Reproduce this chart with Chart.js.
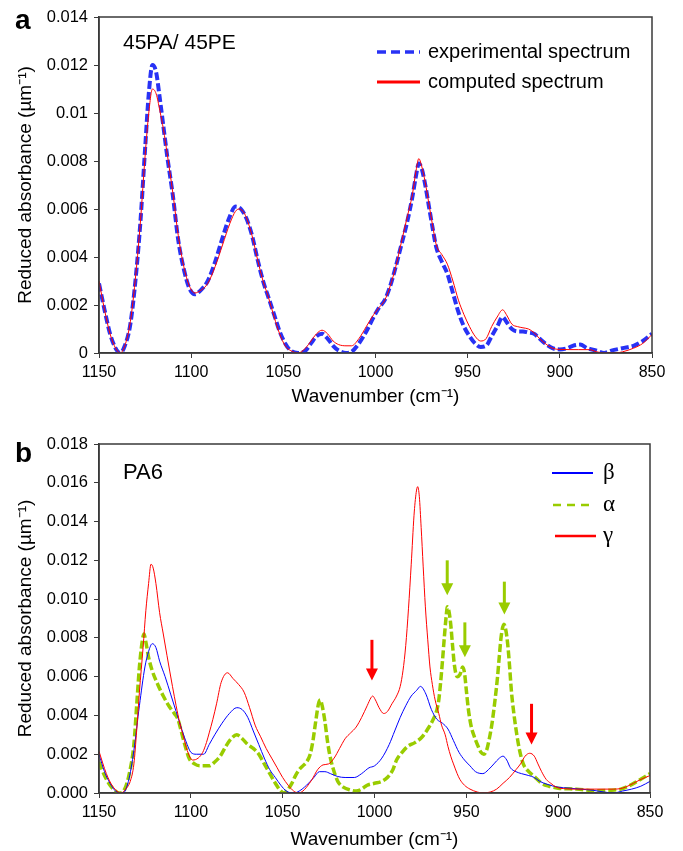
<!DOCTYPE html>
<html>
<head>
<meta charset="utf-8">
<script src="https://cdn.jsdelivr.net/npm/chart.js@4.4.1/dist/chart.umd.min.js"></script>
<style>
  body { margin: 0; background: #fff; }
  canvas { display: block; position: absolute; left: 0; }
  #chartA { top: 0; }
  #chartB { top: 420px; }
</style>
</head>
<body>
<canvas id="chartA" width="683" height="420" style="width:683px;height:420px"></canvas>
<canvas id="chartB" width="683" height="431" style="width:683px;height:431px"></canvas>
<script>
// ---- panel a : 45PA / 45PE ----
const expWn = [1150,1147,1144,1141,1138.5,1136,1133,1130,1127.5,1125,1123,1121,1119,1117,1115,1113,1110,1107,1104,1101,1098,1095,1091,1087,1083,1079,1076,1073,1070,1067,1064,1061,1058,1055,1052,1049,1046,1042,1038,1035,1032,1029,1026,1023,1020,1016,1013,1009,1005,1001,998,995,992,989,986,983,980,978,976.5,975,973,971,969,967,964,961,958,955,952,949,946,943,940,937,934,931,929,926,923,920,917,914,911,908,904,900,896,893,889,885,880,876,872,866,860,855,850];
const expVal = [0.0029,0.0018,0.0008,0.0002,0,0.0003,0.0012,0.0032,0.0055,0.0085,0.0108,0.0120,0.0117,0.0106,0.0094,0.0082,0.0066,0.0047,0.0035,0.0027,0.00245,0.0026,0.0030,0.0038,0.0048,0.0057,0.0061,0.0060,0.0056,0.0049,0.0039,0.0030,0.0023,0.0016,0.0009,0.0004,0.0001,0,0.0001,0.0004,0.0007,0.0008,0.0006,0.0003,0.0001,0,0.00005,0.0004,0.0009,0.0015,0.0019,0.0022,0.0028,0.0036,0.0045,0.0054,0.0065,0.0074,0.0079,0.0077,0.0070,0.0061,0.0052,0.0044,0.0038,0.0033,0.0025,0.0017,0.0011,0.0007,0.0004,0.00025,0.0003,0.0007,0.0011,0.0015,0.0013,0.0010,0.0009,0.0009,0.00085,0.0008,0.0006,0.0004,0.0002,0.00015,0.0002,0.0003,0.00035,0.0002,0.0001,0,0.0001,0.0002,0.0003,0.0005,0.0008];

const compWn = [1150,1147,1144,1141,1138.5,1136,1133,1130,1127.5,1125,1123,1121,1119,1117,1115,1113,1110,1107,1104,1101,1098,1095,1091,1087,1083,1079,1076,1074,1071,1067,1064,1061,1058,1055,1052,1049,1046,1042,1038,1035,1032,1029,1026,1023,1020,1016,1013,1009,1005,1001,998,995,992,989,986,983,980,978,976.5,975,973,971,969,967,964,961,958,955,952,949,946,943,940,937,934,931,929,926,923,920,917,914,911,908,904,900,890,884,880,876,870,866,860,855,850];
const compVal = [0.0030,0.0018,0.0008,0.0002,0,0.0003,0.0013,0.0033,0.0055,0.0082,0.0100,0.0110,0.0108,0.0101,0.0093,0.0083,0.0067,0.0049,0.0036,0.0028,0.0025,0.0026,0.0029,0.0036,0.0045,0.0054,0.0059,0.0060,0.0058,0.0049,0.0039,0.0030,0.0023,0.0015,0.0008,0.0003,0.0001,0,0.0002,0.0005,0.0008,0.00095,0.0008,0.0005,0.00035,0.0003,0.0003,0.0006,0.0011,0.0016,0.0019,0.0022,0.0028,0.0036,0.0046,0.0056,0.0066,0.0076,0.0081,0.0078,0.0071,0.0062,0.0053,0.0045,0.0041,0.0037,0.0030,0.0022,0.0016,0.0011,0.0007,0.0005,0.0006,0.0011,0.0015,0.0018,0.0016,0.0012,0.0011,0.00105,0.0010,0.00085,0.0006,0.0004,0.0002,0.00015,0.00014,0.00014,0.00005,0,0,0.00005,0.0002,0.0004,0.00077];

// ---- panel b : PA6 ----
const betaWn = [1150,1147,1144,1141,1137,1134,1131,1128,1125,1123,1121,1119,1117,1114,1111,1108,1105,1102,1100,1097,1093,1090,1087,1083,1079,1075,1072,1069,1066,1063,1060,1057,1054,1051,1048,1044,1041,1037,1033,1030,1027,1024,1020,1016,1011,1007,1003,1000,996,992,989,986,983,980,977,975,972,969,966,963,960,957,954,951,948,945,941,938,935,932,930,928,926,923,920,916,913,910,906,900,894,888,881,875,870,865,860,855,850];
const betaVal = [0.0020,0.0011,0.0005,0.0001,0,0.0006,0.0022,0.0045,0.0065,0.0073,0.0077,0.0075,0.0068,0.0060,0.0051,0.0042,0.0033,0.0025,0.0021,0.0020,0.0020,0.0025,0.0030,0.0036,0.0041,0.0044,0.0043,0.0039,0.0032,0.0025,0.0018,0.0012,0.0008,0.0004,0.0001,0,0.0001,0.0004,0.0008,0.0011,0.0011,0.0010,0.00085,0.0008,0.0008,0.0010,0.0013,0.0014,0.0018,0.0025,0.0032,0.0039,0.0045,0.0050,0.0053,0.0055,0.0051,0.0043,0.0038,0.0036,0.0033,0.0027,0.0021,0.0017,0.0014,0.0011,0.0010,0.0012,0.0015,0.0018,0.0019,0.0017,0.0013,0.0011,0.0010,0.0009,0.0008,0.0006,0.00045,0.0003,0.00025,0.0002,0.00014,0.00005,0,0.0001,0.0002,0.00035,0.0006];

const alphaWn = [1150,1147,1144,1141,1139,1136,1133.5,1131,1129.5,1128,1126.5,1125.5,1124.5,1123,1121,1118,1115,1112,1109,1107,1105,1103,1101,1098,1095,1090,1087,1084,1081,1078,1075,1072,1069,1066,1063,1060,1057,1054,1051,1049.5,1047,1045,1043,1041,1039,1037,1035,1033.5,1032,1030.5,1029.5,1028.5,1027,1025.5,1024,1022,1020,1017,1013,1010,1007,1004,1000,996,993,990,988,985,982,978,974,971,968,966,965,964,963,962,961,960.3,959.5,958.5,957.5,956.5,955,953.5,952,951,950,949,947.5,946,944,942,940.5,939,937.5,936,934.5,933,932,931,929.5,928.5,927.5,926.5,925.5,924,922.5,921,919,916,913,909,905,900,890,880,872,866,862,857,850];
const alphaVal = [0.0016,0.0009,0.0004,0.0001,0,0.0002,0.0010,0.0025,0.0045,0.0065,0.0078,0.0082,0.0078,0.0070,0.0063,0.0056,0.0050,0.0045,0.0041,0.0038,0.0031,0.0024,0.0018,0.0015,0.0014,0.0014,0.0016,0.0019,0.0024,0.0028,0.0030,0.0028,0.0025,0.0023,0.0020,0.0015,0.0010,0.0005,0.0001,0,0.0002,0.0005,0.0009,0.0012,0.0014,0.0016,0.0020,0.0027,0.0037,0.0046,0.0048,0.0045,0.0037,0.0026,0.0018,0.0011,0.0006,0.0003,0.00015,0.0001,0.0002,0.0004,0.0005,0.0006,0.0008,0.0012,0.0017,0.0021,0.0024,0.0026,0.0029,0.0033,0.0038,0.0043,0.0048,0.0057,0.0068,0.0080,0.0091,0.0096,0.0094,0.0087,0.0076,0.0066,0.0060,0.0061,0.0065,0.0062,0.0053,0.0044,0.0035,0.0030,0.0025,0.0021,0.0020,0.0022,0.0028,0.0036,0.0047,0.0060,0.0071,0.0081,0.0087,0.0084,0.0077,0.0066,0.0053,0.0040,0.0030,0.0022,0.0015,0.0011,0.00085,0.0005,0.00035,0.00025,0.0002,0.00012,0.00014,0.0002,0.00034,0.0006,0.0010];

const gammaWn = [1150,1146,1142.5,1138,1135.5,1133,1131,1129.5,1128,1126,1124.5,1123,1121.7,1120.5,1119,1117,1115,1113,1110,1108,1106,1104,1102,1099,1096,1093.5,1091.5,1090,1088,1086,1083.5,1080,1077,1074,1071,1068,1065,1062,1059,1056,1053,1050,1047,1044,1041.5,1039,1037,1034,1031,1028,1025,1022,1019,1016,1013,1010,1007,1004,1002,1001,999.5,997.5,995,993,990.5,988,986,984.5,983,981.5,980,978.5,977.3,976.5,975.6,974.6,973.5,972.3,971,969.8,968.5,967,965,963.5,961.5,960,958.5,957,955,953.5,951,948,944,941,937,933.5,930,926.5,923,920.5,918,915.5,913,911,909,906.5,904,901,896,890,880,870,865,859,855,850];
const gammaVal = [0.00215,0.0010,0.00034,0,0.0002,0.0006,0.0015,0.0032,0.0052,0.0075,0.0094,0.0108,0.0118,0.0116,0.0108,0.0093,0.0082,0.0071,0.0055,0.0045,0.0036,0.0029,0.0022,0.0017,0.0018,0.0021,0.0026,0.0031,0.0038,0.0046,0.0057,0.0062,0.0059,0.0056,0.0052,0.0044,0.0035,0.0029,0.0023,0.0018,0.0013,0.0008,0.0004,0.0001,0,0.0001,0.0003,0.0007,0.0012,0.00145,0.0015,0.0018,0.0023,0.0028,0.0031,0.0034,0.0039,0.0045,0.0049,0.0050,0.0048,0.0044,0.0041,0.0042,0.0046,0.0050,0.0055,0.0063,0.0076,0.0095,0.0118,0.0143,0.0155,0.0158,0.0153,0.0137,0.0117,0.0096,0.0079,0.0065,0.0056,0.0048,0.0041,0.0035,0.0030,0.0024,0.0019,0.0015,0.0010,0.0007,0.0004,0.0002,0.00005,0,0.00005,0.0002,0.0005,0.0008,0.0012,0.0015,0.0019,0.00205,0.0019,0.0015,0.0011,0.0007,0.0005,0.0003,0.00022,0.0002,0.0002,0.0002,0.00025,0.0005,0.0007,0.0009];

// peak arrows in panel b (wavenumber, tail value, tip value)
const arrowWn   = [1001.4, 914.5, 960.4, 950.8, 929.3];
const arrowTail = [0.0079, 0.0046, 0.0120, 0.0088, 0.0109];
const arrowTip  = [0.0058, 0.0025, 0.0102, 0.0070, 0.0092];
const arrowSet  = ['gamma', 'gamma', 'alpha', 'alpha', 'alpha'];

// axis ticks
const xTicks = [1150, 1100, 1050, 1000, 950, 900, 850];
const xLabels = ['1150', '1100', '1050', '1000', '950', '900', '850'];
const yTicksA = [0, 0.002, 0.004, 0.006, 0.008, 0.01, 0.012, 0.014];
const yLabelsA = ['0', '0.002', '0.004', '0.006', '0.008', '0.01', '0.012', '0.014'];
const yTicksB = [0, 0.002, 0.004, 0.006, 0.008, 0.010, 0.012, 0.014, 0.016, 0.018];
const yLabelsB = ['0.000', '0.002', '0.004', '0.006', '0.008', '0.010', '0.012', '0.014', '0.016', '0.018'];

const AXIS = '#3a3a3a';
const SANS = '"Liberation Sans", Arial, sans-serif';
const COLORS = { exp: 'rgb(40,50,245)', comp: 'rgb(255,0,0)', beta: 'rgb(0,0,255)', alpha: 'rgb(153,204,0)', gamma: 'rgb(255,0,0)' };

const pts = (wn, val) => wn.map((w, i) => ({ x: w, y: val[i] }));

const decor = {
  id: 'decor',
  afterDraw(chart, args, o) {
    const { ctx, chartArea: ca, scales: { x, y } } = chart;
    ctx.save();
    ctx.strokeStyle = AXIS;
    ctx.lineWidth = 1.5;
    ctx.strokeRect(ca.left, ca.top, ca.right - ca.left, ca.bottom - ca.top);

    // arrows
    (o.arrows || []).forEach(a => {
      const px = x.getPixelForValue(a.wn);
      const y0 = y.getPixelForValue(a.tail);
      const y1 = y.getPixelForValue(a.tip);
      ctx.strokeStyle = a.color;
      ctx.fillStyle = a.color;
      ctx.lineWidth = 3;
      ctx.beginPath();
      ctx.moveTo(px, y0);
      ctx.lineTo(px, y1 - 10);
      ctx.stroke();
      ctx.beginPath();
      ctx.moveTo(px - 6, y1 - 12);
      ctx.lineTo(px + 6, y1 - 12);
      ctx.lineTo(px, y1);
      ctx.closePath();
      ctx.fill();
    });

    ctx.fillStyle = '#000';
    ctx.textAlign = 'left';
    ctx.textBaseline = 'alphabetic';
    ctx.font = 'bold 28px ' + SANS;
    ctx.fillText(o.letter, 15, o.letterY);

    ctx.textBaseline = 'middle';
    ctx.font = o.labelFont;
    ctx.fillText(o.label, 123, o.labelY);

    o.legend.forEach(it => {
      const ds = chart.data.datasets[it.ds];
      ctx.strokeStyle = ds.borderColor;
      ctx.lineWidth = it.lw;
      ctx.setLineDash(it.dash || []);
      ctx.beginPath();
      ctx.moveTo(it.x0, it.y);
      ctx.lineTo(it.x1, it.y);
      ctx.stroke();
      ctx.setLineDash([]);
      ctx.fillStyle = '#000';
      ctx.font = it.font;
      ctx.fillText(ds.label, it.tx, it.y);
    });
    ctx.restore();
  }
};

function axes(yTicks, yLabels, yMax, xHeight, xTitlePad) {
  const grid = { display: true, drawOnChartArea: false, drawTicks: true, tickLength: 5, color: AXIS, lineWidth: 1 };
  const border = { display: true, color: AXIS, width: 1.5 };
  return {
    x: {
      type: 'linear', reverse: true, min: 850, max: 1150,
      grid, border,
      afterBuildTicks: s => { s.ticks = xTicks.map(v => ({ value: v })); },
      afterFit: s => { s.height = xHeight; },
      ticks: { color: '#000', font: { family: SANS, size: 16 }, padding: 5, maxRotation: 0, autoSkip: false, callback: (v, i) => xLabels[i] },
      title: { display: true, text: 'Wavenumber (cm⁻¹)', color: '#000', font: { family: SANS, size: 19 }, padding: { top: 0, bottom: xTitlePad } }
    },
    y: {
      min: 0, max: yMax,
      grid, border,
      afterBuildTicks: s => { s.ticks = yTicks.map(v => ({ value: v })); },
      afterFit: s => { s.width = 99; },
      ticks: { color: '#000', font: { family: SANS, size: 16.5 }, padding: 6, callback: (v, i) => yLabels[i] },
      title: { display: true, text: 'Reduced absorbance (µm⁻¹)', color: '#000', font: { family: SANS, size: 19 }, padding: { top: 14, bottom: 0 } }
    }
  };
}

const common = {
  responsive: false,
  animation: false,
  devicePixelRatio: 1,
  plugins: { legend: { display: false }, tooltip: { enabled: false } },
  elements: { point: { radius: 0 }, line: { cubicInterpolationMode: 'monotone' } }
};

new Chart(document.getElementById('chartA').getContext('2d'), {
  type: 'line',
  data: {
    datasets: [
      { label: 'computed spectrum', data: pts(compWn, compVal), borderColor: COLORS.comp, borderWidth: 1, order: 1 },
      { label: 'experimental spectrum', data: pts(expWn, expVal), borderColor: COLORS.exp, borderWidth: 4, borderDash: [8, 3], order: 2 }
    ]
  },
  options: {
    ...common,
    layout: { padding: { left: 0, right: 31, top: 17, bottom: 0 } },
    scales: axes(yTicksA, yLabelsA, 0.014, 67, 12),
    plugins: {
      ...common.plugins,
      decor: {
        letter: 'a', letterY: 29,
        label: '45PA/ 45PE', labelY: 43, labelFont: '21px ' + SANS,
        legend: [
          { ds: 1, x0: 377, x1: 420, y: 52, lw: 3.5, dash: [9, 5], tx: 428, font: '20px ' + SANS },
          { ds: 0, x0: 377, x1: 420, y: 82, lw: 3, tx: 428, font: '20px ' + SANS }
        ]
      }
    }
  },
  plugins: [decor]
});

new Chart(document.getElementById('chartB').getContext('2d'), {
  type: 'line',
  data: {
    datasets: [
      { label: 'β', data: pts(betaWn, betaVal), borderColor: COLORS.beta, borderWidth: 1, order: 2 },
      { label: 'α', data: pts(alphaWn, alphaVal), borderColor: COLORS.alpha, borderWidth: 3.5, borderDash: [8, 3], order: 3 },
      { label: 'γ', data: pts(gammaWn, gammaVal), borderColor: COLORS.gamma, borderWidth: 1, order: 1 }
    ]
  },
  options: {
    ...common,
    layout: { padding: { left: 0, right: 33, top: 24, bottom: 0 } },
    scales: axes(yTicksB, yLabelsB, 0.018, 58, 0),
    plugins: {
      ...common.plugins,
      decor: {
        letter: 'b', letterY: 42,
        label: 'PA6', labelY: 53, labelFont: '22px ' + SANS,
        arrows: arrowWn.map((w, i) => ({ wn: w, tail: arrowTail[i], tip: arrowTip[i], color: COLORS[arrowSet[i]] })),
        legend: [
          { ds: 0, x0: 552, x1: 593, y: 53, lw: 2, tx: 603, font: '23px "Liberation Serif", serif' },
          { ds: 1, x0: 553, x1: 595, y: 85, lw: 2.5, dash: [8, 6], tx: 603, font: '23px "Liberation Serif", serif' },
          { ds: 2, x0: 555, x1: 596, y: 116, lw: 2.5, tx: 603, font: '23px "Liberation Serif", serif' }
        ]
      }
    }
  },
  plugins: [decor]
});
</script>
</body>
</html>
